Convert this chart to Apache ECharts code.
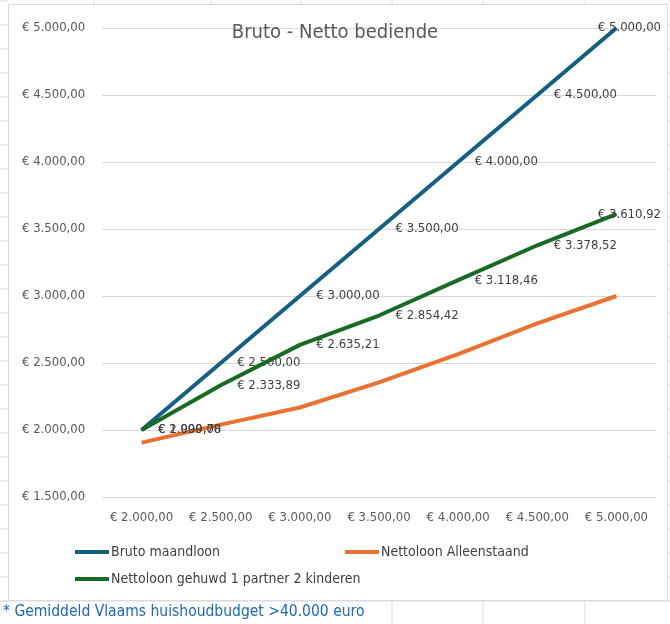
<!DOCTYPE html>
<html>
<head>
<meta charset="utf-8">
<script src="https://cdn.jsdelivr.net/npm/echarts@6/dist/echarts.min.js"></script>
<style>
	html, body { margin: 0; padding: 0; background: #fff; }
	#chart { width: 670px; height: 624px; }
</style>
</head>
<body>
<div id="chart"></div>
<script>
	
	var categories = [2000, 2500, 3000, 3500, 4000, 4500, 5000];
	
	var bruto = [2000, 2500, 3000, 3500, 4000, 4500, 5000];
	
	var alleenstaand = [1906, 2040, 2168, 2355, 2567, 2796, 3000];
	
	var gehuwd = [1999.78, 2333.89, 2635.21, 2854.42, 3118.46, 3378.52, 3610.92];
	
	var seriesNames = ["Bruto maandloon", "Nettoloon Alleenstaand", "Nettoloon gehuwd 1 partner 2 kinderen"];
	
	var FONT = "'Liberation Sans Narrow', 'DejaVu Sans Condensed', sans-serif";
	
	/*
	 * € 2.000,00
	 */
	function euro(v) {
		
		var parts = Number(v).toFixed(2).split(".");
		
		return "€ " + parts[0].replace(/\B(?=(\d{3})+(?!\d))/g, ".") + "," + parts[1];
		
	}
	
	/*
	 * 数据标签，最后一个点往回挪
	 */
	function labelled(arr) {
		
		return arr.map(function(v, i) {
			
			if (i === arr.length - 1) {
				return {
					value: v,
					label: { position: "inside", offset: [13, 0] }
				};
			}
			
			return v;
			
		});
		
	}
	
	/*
	 * 图例，一项一个
	 */
	function legendItem(name, left, top) {
		
		return {
			data: [name],
			left: left,
			top: top,
			itemWidth: 34,
			itemHeight: 4,
			itemGap: 0,
			icon: "rect",
			textStyle: {
				color: "#404040",
				fontSize: 14,
				fontFamily: FONT,
				padding: [0, 0, 0, -3]
			}
		};
		
	}
	
	/*
	 * Excel 背景格线
	 */
	function sheetLines() {
		
		var els = [], y, i;
		
		var cols = [94, 211, 301, 392, 483, 585];
		
		for (y = 1; y < 624; y += 24) {
			els.push({ type: "line", shape: { x1: 0, y1: y, x2: 8, y2: y }, style: { stroke: "#dcdcdc", lineWidth: 1 } });
			els.push({ type: "line", shape: { x1: 668, y1: y, x2: 670, y2: y }, style: { stroke: "#dcdcdc", lineWidth: 1 } });
		}
		
		for (i = 0; i < cols.length; i++) {
			els.push({ type: "line", shape: { x1: cols[i], y1: 0, x2: cols[i], y2: 4 }, style: { stroke: "#dcdcdc", lineWidth: 1 } });
			if (cols[i] > 370) {
				els.push({ type: "line", shape: { x1: cols[i], y1: 601, x2: cols[i], y2: 624 }, style: { stroke: "#dcdcdc", lineWidth: 1 } });
			}
		}
		
		els.push({ type: "line", shape: { x1: 0, y1: 601, x2: 670, y2: 601 }, style: { stroke: "#dcdcdc", lineWidth: 1 } });
		
		// chart frame
		els.push({
			type: "rect",
			shape: { x: 8.5, y: 4.5, width: 659, height: 596 },
			style: { fill: "#fff", stroke: "#d9d9d9", lineWidth: 1 },
			z: -10
		});
		
		els.push({
			type: "text",
			left: 3,
			top: 604,
			style: {
				text: "* Gemiddeld Vlaams huishoudbudget >40.000 euro",
				fill: "#1f66b3",
				font: "15.5px " + FONT
			}
		});
		
		return els;
		
	}
	
	var chart = echarts.init(document.getElementById("chart"));
	
	var lineLabel = {
		show: true,
		position: "right",
		distance: 16,
		color: "#404040",
		fontSize: 13,
		fontFamily: FONT,
		formatter: function(p) {
			return euro(p.value);
		}
	};
	
	chart.setOption({
		animation: false,
		color: ["#156082", "#e97132", "#196b24"],
		title: {
			text: "Bruto - Netto bediende",
			left: "center",
			top: 18,
			textStyle: {
				color: "#595959",
				fontSize: 20,
				fontWeight: "normal",
				fontFamily: FONT
			}
		},
		legend: [
			legendItem(seriesNames[0], 70, 540),
			legendItem(seriesNames[1], 340, 540),
			legendItem(seriesNames[2], 70, 567)
		],
		grid: {
			left: 102,
			right: 14,
			top: 28,
			bottom: 127
		},
		xAxis: {
			type: "category",
			data: categories,
			boundaryGap: true,
			axisLine: { show: false },
			axisTick: { show: false },
			axisLabel: {
				interval: 0,
				color: "#595959",
				fontSize: 13,
				fontFamily: FONT,
				margin: 14,
				formatter: function(v) {
					return euro(v);
				}
			}
		},
		yAxis: {
			type: "value",
			min: 1500,
			max: 5000,
			interval: 500,
			axisLine: { show: false },
			axisTick: { show: false },
			splitLine: { lineStyle: { color: "#d9d9d9" } },
			axisLabel: {
				color: "#595959",
				fontSize: 13,
				fontFamily: FONT,
				align: "left",
				margin: 80,
				formatter: function(v) {
					return euro(v);
				}
			}
		},
		graphic: sheetLines(),
		series: [{
			name: seriesNames[0],
			type: "line",
			data: labelled(bruto),
			symbol: "circle",
			symbolSize: 1,
			lineStyle: { width: 4 },
			label: lineLabel,
			z: 3
		}, {
			name: seriesNames[1],
			type: "line",
			data: alleenstaand,
			showSymbol: false,
			lineStyle: { width: 4 },
			z: 2
		}, {
			name: seriesNames[2],
			type: "line",
			data: labelled(gehuwd),
			symbol: "circle",
			symbolSize: 1,
			lineStyle: { width: 4 },
			label: lineLabel,
			z: 4
		}]
	});
	
</script>
</body>
</html>
